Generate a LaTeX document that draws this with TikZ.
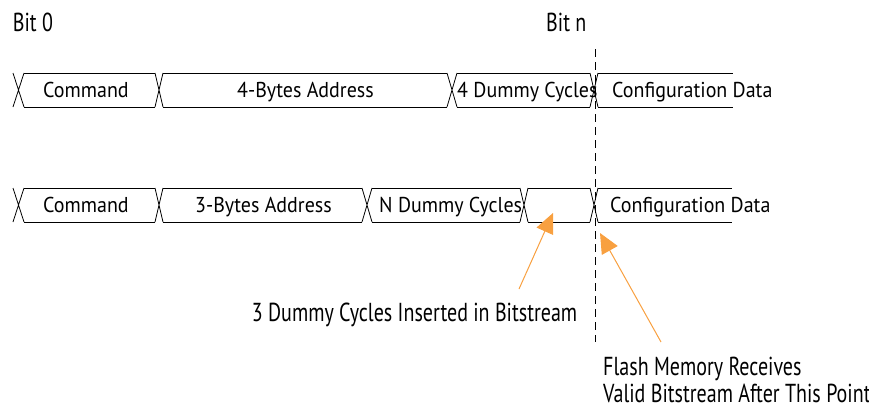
\documentclass[tikz,border=0pt]{standalone}
\usepackage{fontspec}
\setmainfont{PT Sans}
\newfontfamily\busfont{PT Sans}[FakeStretch=0.93]
\newfontfamily\notefont{PT Sans}[FakeStretch=0.77]
\usetikzlibrary{arrows.meta}
\definecolor{callout}{RGB}{248,160,64}
\tikzset{
  bus/.style={line width=0.8pt, black},
  bustext/.style={font=\busfont\fontsize{21.5}{24}\selectfont, anchor=base west, inner sep=0pt},
  note/.style={font=\notefont\fontsize{26}{27}\selectfont, anchor=base west, inner sep=0pt, align=left},
  pointer/.style={callout, line width=1pt, -{Triangle[length=20pt,width=18pt]}},
  marker/.style={line width=0.8pt, dash pattern=on 8pt off 5pt}
}
\begin{document}
\begin{tikzpicture}[x=1pt, y=-1pt]
  \useasboundingbox (0,0) rectangle (869,408);

  % bit labels
  \node[note] (bit0) at (12.7,31.7) {Bit 0};
  \node[note] (bitn) at (546,31.7) {Bit n};

  % row 1: 4-byte addressing
  \def\T{73}\def\B{107}
  \foreach \a/\b in {13/24,155/163,447/457,590/598}
    \draw[bus] (\a,\T) -- (\b,\B) (\a,\B) -- (\b,\T);
  \foreach \a/\b in {24/155,163/447,457/590,598/733}
    \draw[bus] (\a,\T) -- (\b,\T) (\a,\B) -- (\b,\B);
  \node[bustext] (cmdA)  at (43,97.5)  {Command};
  \node[bustext] (addrA) at (237,97.5) {4-Bytes Address};
  \node[bustext] (dumA)  at (457,97.5) {4 Dummy Cycles};
  \node[bustext] (cfgA)  at (612,97.5) {Configuration Data};

  % row 2: 3-byte addressing
  \def\T{188}\def\B{222}
  \foreach \a/\b in {13/24,155/163,362/372,520/528,590/598}
    \draw[bus] (\a,\T) -- (\b,\B) (\a,\B) -- (\b,\T);
  \foreach \a/\b in {24/155,163/362,372/520,528/590,598/732}
    \draw[bus] (\a,\T) -- (\b,\T) (\a,\B) -- (\b,\B);
  \node[bustext] (cmdB)  at (43,212)  {Command};
  \node[bustext] (addrB) at (195,212) {3-Bytes Address};
  \node[bustext] (dumB)  at (379,212) {N Dummy Cycles};
  \node[bustext] (cfgB)  at (610,212) {Configuration Data};

  % bit n marker
  \coordinate (markTop) at (595,49);
  \coordinate (markBot) at (595,342);
  \draw[marker] (markTop) -- (markBot);

  % notes and pointers
  \node[note] (insertNote) at (251.7,321.7) {3 Dummy Cycles Inserted in Bitstream};
  \node[note] (validNote) at (603,402) {Flash Memory Receives\\Valid Bitstream After This Point};
  \coordinate (insertFrom) at (519,289);
  \coordinate (gapTip) at (553,213);
  \coordinate (validFrom) at (661,342);
  \coordinate (edgeTip) at (600,233);
  \draw[pointer] (insertFrom) -- (gapTip);
  \draw[pointer] (validFrom) -- (edgeTip);
\end{tikzpicture}
\end{document}
